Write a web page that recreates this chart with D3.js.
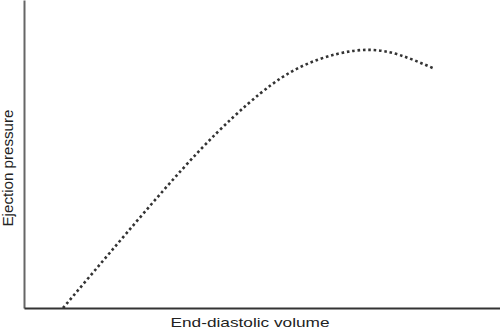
<!DOCTYPE html>
<html>
<head>
<meta charset="utf-8">
<script src="https://cdn.jsdelivr.net/npm/d3@7"></script>
<style>
  body { margin: 0; background: #fff; }
  text { font-family: "Liberation Sans", Arial, sans-serif; fill: #222; }
</style>
</head>
<body>
<script>
// volume (arbitrary units, 0-100) and pressure
var volume = [8.2, 21.6, 37.0, 49.6, 58.0, 65.8, 72.7, 79.0, 85.9];
var pressure = [0, 24.4, 51.3, 69.6, 78.2, 82.5, 83.8, 82.1, 77.9];
var xLabel = "End-diastolic volume";
var yLabel = "Ejection pressure";

var width = 500;
var height = 329;

var x = d3.scaleLinear()
    .domain([0, 100])
    .range([24, 500]);

var y = d3.scaleLinear()
    .domain([0, 100])
    .range([308, 0]);

var svg = d3.select("body")
    .append("svg")
    .attr("width", width)
    .attr("height", height);

// axes with no ticks, just the lines
var yaxis = d3.axisLeft(y).tickValues([]).tickSizeOuter(0);
var gy = svg.append("g")
    .attr("transform", "translate(" + x(0) + ",0)")
    .call(yaxis);
gy.select(".domain")
  .attr("stroke", "#666")
  .attr("stroke-width", 2);

var xaxis = d3.axisBottom(x).tickValues([]).tickSizeOuter(0);
var gx = svg.append("g")
    .attr("transform", "translate(0," + y(0) + ")")
    .call(xaxis);
gx.select(".domain")
  .attr("stroke", "#333")
  .attr("stroke-width", 2);

var points = volume.map(function(v, i) { return [v, pressure[i]]; });

var line = d3.line()
    .x(function(d) { return x(d[0]); })
    .y(function(d) { return y(d[1]); })
    .curve(d3.curveNatural);

svg.append("path")
  .datum(points)
  .attr("d", line)
  .attr("fill", "none")
  .attr("stroke", "#333")
  .attr("stroke-width", 2.6)
  .attr("stroke-dasharray", "2.6,2.8");

svg.append("text")
  .attr("x", 250)
  .attr("y", 327)
  .attr("text-anchor", "middle")
  .attr("font-size", 13.5)
  .attr("textLength", 159)
  .attr("lengthAdjust", "spacingAndGlyphs")
  .text(xLabel);

svg.append("text")
  .attr("transform", "translate(13,168) rotate(-90)")
  .attr("text-anchor", "middle")
  .attr("font-size", 15)
  .attr("textLength", 117)
  .attr("lengthAdjust", "spacingAndGlyphs")
  .text(yLabel);
</script>
</body>
</html>
